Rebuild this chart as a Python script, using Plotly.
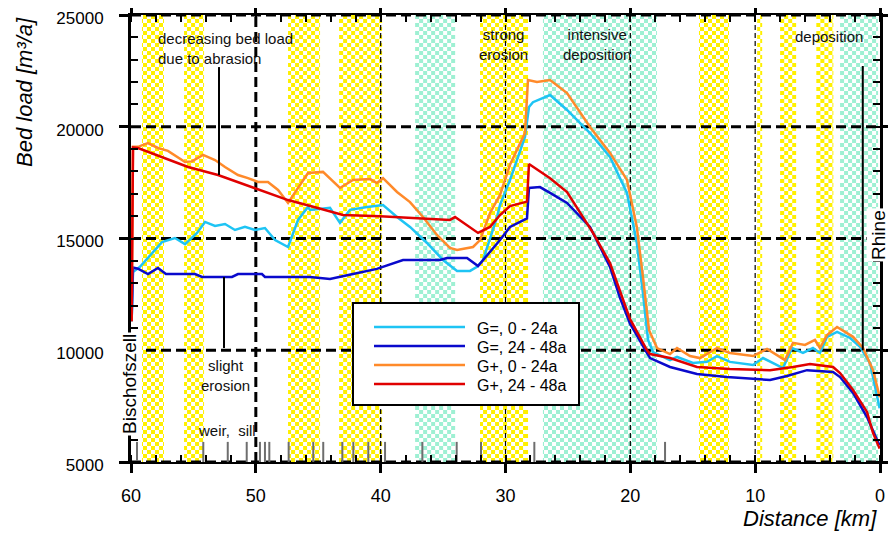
import numpy as np
import plotly.graph_objects as go

# ---------------- data ----------------
cyan_km = [59.95, 59.84, 59.28, 58.32, 57.52, 56.48, 55.67, 54.71, 54.07, 53.27, 52.47, 51.67, 50.87, 50.07,
           49.27, 48.46, 47.42, 46.62, 45.82, 45.66, 44.06, 43.26, 42.46, 41.09, 39.81, 38.69, 37.65, 36.29,
           35.01, 33.88, 32.84, 32.28, 31.80, 30.68, 30.44, 29.64, 28.44, 28.12, 27.80, 26.43, 25.07, 23.23,
           21.63, 20.27, 19.48, 18.99, 18.58, 18.18, 16.82, 16.26, 14.98, 13.86, 13.06, 12.02, 10.17, 9.37,
           8.57, 7.77, 7.05, 6.17, 5.37, 4.81, 4.24, 3.44, 2.40, 1.60, 0.80, 0.16, 0.03]
cyan_val = [11300, 13500, 13730, 14350, 14840, 15020, 14750, 15250, 15740, 15560, 15650, 15380, 15520, 15380,
            15470, 14930, 14620, 15830, 16410, 16280, 16370, 15700, 16280, 16410, 16500, 15960, 15520, 14800,
            14040, 13550, 13550, 13730, 14040, 15960, 16500, 17620, 19540, 20880, 21100, 21420, 20750, 19720,
            18650, 17040, 14800, 12560, 10460, 9920, 9560, 9700, 9430, 9480, 9740, 9480, 9340, 9650,
            9430, 9200, 10100, 9880, 10100, 9880, 10600, 10820, 10550, 10150, 9430, 7640, 7400]

blue_km = [59.95, 59.84, 59.44, 58.64, 57.84, 57.2, 54.87, 54.31, 51.91, 51.43, 49.51, 49.27, 45.66, 44.06,
           42.22, 40.30, 38.21, 35.25, 34.69, 33.08, 32.20, 31.24, 30.44, 29.64, 28.44, 28.28, 28.12, 27.24,
           26.43, 25.07, 23.23, 21.63, 20.83, 20.03, 18.66, 18.42, 16.82, 14.66, 12.26, 8.81, 7.45, 5.85,
           3.76, 3.20, 2.16, 1.04, 0.24, 0.03]
blue_val = [11300, 13700, 13650, 13410, 13680, 13410, 13410, 13280, 13280, 13410, 13410, 13280, 13280, 13190,
            13410, 13640, 14040, 14040, 14130, 14130, 13770, 14400, 14930, 15520, 15830, 15900, 17260, 17300,
            17040, 16590, 15520, 13730, 12340, 11200, 9870, 9650, 9250, 8940, 8800, 8670, 8850, 9110,
            9030, 8800, 8090, 7010, 5990, 5750]

orange_km = [59.95, 59.84, 59.44, 58.64, 57.84, 57.04, 55.67, 55.11, 54.23, 53.27, 52.47, 51.43, 50.63, 49.83,
             49.03, 48.22, 47.42, 46.62, 45.82, 44.62, 43.26, 42.22, 40.85, 40.30, 39.81, 38.69, 37.65, 36.61,
             35.49, 34.45, 33.88, 32.60, 32.04, 31.24, 30.44, 29.64, 28.44, 28.20, 27.48, 26.43, 25.07, 23.23,
             21.63, 20.27, 19.48, 18.99, 18.5, 17.86, 16.82, 16.26, 15.22, 14.42, 13.06, 12.02, 10.17, 9.05,
             8.01, 7.61, 6.97, 6.01, 5.21, 4.81, 4.24, 3.44, 2.16, 1.36, 0.56, 0.08, 0.02]
orange_val = [11300, 19100, 19100, 19270, 19050, 18920, 18420, 18450, 18740, 18510, 18200, 17840, 17700, 17530,
              17530, 17170, 16590, 17260, 17930, 17980, 17260, 17620, 17660, 17480, 17700, 17080, 16630, 15960,
              15160, 14580, 14490, 14620, 14930, 16140, 16950, 18300, 19720, 22090, 22000, 22090, 21510, 19990,
              18830, 17620, 15520, 13280, 10900, 10100, 9830, 10100, 9740, 9650, 10100, 9880, 9740, 10060,
              9700, 9560, 10330, 10240, 10460, 10100, 10680, 11040, 10600, 10100, 9110, 8090, 7900]

red_km = [59.95, 59.84, 59.44, 55.43, 53.03, 50.07, 47.42, 45.26, 43.02, 40.05, 37.65, 34.45, 34.04, 32.20,
          31.24, 30.44, 29.64, 28.44, 28.28, 28.12, 26.43, 25.07, 22.99, 21.63, 20.83, 20.03, 18.66, 18.42,
          16.82, 14.66, 12.02, 8.81, 6.97, 5.61, 3.76, 3.20, 2.16, 1.04, 0.56, 0.03]
red_val = [11300, 19080, 19050, 18200, 17840, 17260, 16720, 16400, 16050, 16000, 15920, 15830, 15960, 15250,
           15520, 16050, 16450, 16630, 16650, 18330, 17700, 17080, 15250, 13900, 12600, 11400, 10000, 9830,
           9650, 9250, 9160, 9110, 9250, 9380, 9250, 8980, 8220, 7240, 6300, 5600]

series_names = ["G=, 0 - 24a", "G=, 24 - 48a", "G+, 0 - 24a", "G+, 24 - 48a"]
series_colors = ["#1ec4f4", "#0a0acc", "#ff8a2a", "#e00000"]

# hatched (checkered) background bands: (from km, to km)
yellow_bands = [(59.12, 57.36), (55.75, 54.15), (47.42, 44.86), (43.33, 39.9), (32.04, 28.2),
                (14.5, 12.1), (9.84, 9.44), (8.0, 6.7), (5.1, 3.7)]
green_bands = [(37.24, 34.04), (27.0, 17.85), (3.2, 0.15)]

# weirs and sills (km)
weir_km = [59.52, 54.21, 52.25, 50.73, 49.67, 49.27, 48.92, 47.37, 45.40, 44.60, 43.07, 42.19,
           40.99, 39.65, 36.66, 33.91, 31.96, 27.69, 17.22]

x_ticks = [60, 50, 40, 30, 20, 10, 0]
y_ticks = [5000, 10000, 15000, 20000, 25000]

YELLOW = "#fff000"
GREEN = "#9ef0d3"
FONT = "Arial, Liberation Sans, Helvetica, sans-serif"

fig = go.Figure()

# ---------------- checkered bands ----------------
cell_km = 60 / 187
cell_y = 20000 / 112
y_edges = np.array([5000 + j * cell_y for j in range(113)])
for bands, col in ((yellow_bands, YELLOW), (green_bands, GREEN)):
    for a, b in bands:
        hi, lo = max(a, b), min(a, b)
        k0 = int(np.floor(lo / cell_km)) + 1
        k1 = int(np.ceil(hi / cell_km)) - 1
        inner = [k * cell_km for k in range(k0, k1 + 1)]
        xe = [lo] + inner + [hi]
        ncol = len(xe) - 1
        z = np.full((112, ncol), np.nan)
        for c in range(ncol):
            kk = int(np.floor(((xe[c] + xe[c + 1]) / 2) / cell_km))
            for j in range(112):
                if (kk + j) % 2 == 0:
                    z[j, c] = 1
        fig.add_trace(go.Heatmap(x=xe, y=y_edges, z=z, colorscale=[[0, col], [1, col]],
                                 showscale=False, hoverinfo="skip", zmin=0, zmax=2))

# ---------------- dashed grid (drawn over the bands) ----------------
gx, gy = [], []
for v in y_ticks:
    gx += [60, 0, None]
    gy += [v, v, None]
fig.add_trace(go.Scatter(x=gx, y=gy, mode="lines", line=dict(color="black", width=3, dash="10px,5px"),
                         hoverinfo="skip", showlegend=False))
fig.add_trace(go.Scatter(x=[50, 50], y=[5000, 25000], mode="lines",
                         line=dict(color="black", width=3, dash="10px,5px"), hoverinfo="skip", showlegend=False))
vx, vy = [], []
for v in [40, 30, 20, 10]:
    vx += [v, v, None]
    vy += [5000, 25000, None]
fig.add_trace(go.Scatter(x=vx, y=vy, mode="lines", line=dict(color="black", width=1.2, dash="5px,3px"),
                         hoverinfo="skip", showlegend=False))

# weir / sill marks
wx, wy = [], []
for k in weir_km:
    wx += [k, k, None]
    wy += [5000, 5900, None]
fig.add_trace(go.Scatter(x=wx, y=wy, mode="lines", line=dict(color="#6e6e6e", width=2),
                         hoverinfo="skip", showlegend=False))

# ---------------- series ----------------
for xs, ys, name, col in ((cyan_km, cyan_val, series_names[0], series_colors[0]),
                          (blue_km, blue_val, series_names[1], series_colors[1]),
                          (orange_km, orange_val, series_names[2], series_colors[2]),
                          (red_km, red_val, series_names[3], series_colors[3])):
    fig.add_trace(go.Scatter(x=xs, y=ys, mode="lines", name=name, line=dict(color=col, width=2.5),
                             showlegend=False))

# ---------------- annotation lines ----------------
shapes = [
    dict(type="line", x0=52.95, x1=52.95, y0=22670, y1=17840, line=dict(color="black", width=2)),
    dict(type="line", x0=52.55, x1=52.55, y0=13280, y1=10100, line=dict(color="black", width=2)),
    dict(type="line", x0=1.38, x1=1.38, y0=22720, y1=10000, line=dict(color="black", width=2)),
]

# manual legend (page px -> paper; plot area spans page px 131..880 x 15..462)
def px_x(p):
    return (p - 131) / 749

def px_y(p):
    return (462 - p) / 447

shapes.append(dict(type="rect", xref="paper", yref="paper", x0=px_x(353), x1=px_x(579), y0=px_y(303),
                   y1=px_y(405), line=dict(color="black", width=2), fillcolor="white", layer="above"))
annotations = []
rows = [327, 346, 365, 384]
for r, name, col in zip(rows, series_names, series_colors):
    shapes.append(dict(type="line", xref="paper", yref="paper", x0=px_x(374), x1=px_x(465), y0=px_y(r),
                       y1=px_y(r), line=dict(color=col, width=2.5), layer="above"))
    annotations.append(dict(xref="paper", yref="paper", x=px_x(475), y=px_y(r + 1), text=name, showarrow=False,
                            xanchor="left", yanchor="middle", font=dict(size=16, color="black", family=FONT)))

txt = dict(showarrow=False, font=dict(size=15, color="#111111", family=FONT))
annotations += [
    dict(x=58.0, y=23500, text="decreasing bed load<br>due to abrasion", xanchor="left", yanchor="middle",
         align="left", **txt),
    dict(x=52.47, y=8870, text="slight<br>erosion", xanchor="center", yanchor="middle", **txt),
    dict(x=52.31, y=6430, text="weir,  sill", xanchor="center", yanchor="middle", **txt),
    dict(x=30.2, y=23660, text="strong<br>erosion", xanchor="center", yanchor="middle", **txt),
    dict(x=22.67, y=23660, text="intensive<br>deposition", xanchor="center", yanchor="middle", **txt),
    dict(x=4.08, y=24020, text="deposition", xanchor="center", yanchor="middle", **txt),
    dict(xref="paper", x=px_x(129), y=8490, text="Bischofszell", textangle=-90, showarrow=False,
         bgcolor="white", xanchor="center", yanchor="middle", font=dict(size=19, color="black", family=FONT)),
    dict(xref="paper", x=px_x(879), y=15160, text="Rhine", textangle=-90, showarrow=False,
         bgcolor="white", xanchor="center", yanchor="middle", font=dict(size=19, color="black", family=FONT)),
    dict(xref="paper", yref="paper", x=px_x(24), y=px_y(92), text="<i>Bed load [m³/a]</i>", textangle=-90,
         showarrow=False, xanchor="center", yanchor="middle", font=dict(size=22, color="black", family=FONT)),
    dict(xref="paper", yref="paper", x=px_x(741), y=px_y(518), text="<i>Distance [km]</i>",
         showarrow=False, xanchor="left", yanchor="middle", font=dict(size=22, color="black", family=FONT)),
]

# the page body adds an 8px offset, so the figure is 8px smaller and margins shifted by 8px
fig.update_layout(
    width=888, height=527,
    margin=dict(l=123, r=16, t=7, b=73, autoexpand=False),
    paper_bgcolor="white", plot_bgcolor="white",
    font=dict(family=FONT, color="black"),
    showlegend=False,
    shapes=shapes, annotations=annotations,
    xaxis=dict(range=[60, 0], tickvals=x_ticks, showgrid=False, zeroline=False, automargin=False,
               showline=True, linecolor="black", linewidth=2, mirror="ticks",
               ticks="outside", ticklen=9, tickwidth=3, tickcolor="black", ticklabeloverflow="allow",
               tickfont=dict(size=18, color="black"), ticklabelstandoff=7,
               minor=dict(dtick=2, ticks="inside", ticklen=7, tickwidth=2, tickcolor="black", showgrid=False)),
    yaxis=dict(range=[5000, 25000], tickvals=y_ticks, tickformat="d", showgrid=False, zeroline=False,
               automargin=False, showline=True, linecolor="black", linewidth=3, mirror="ticks",
               ticks="outside", ticklen=9, tickwidth=3, tickcolor="black", ticklabeloverflow="allow",
               tickfont=dict(size=17, color="black"), ticklabelstandoff=12, ticklabelshift=3,
               minor=dict(dtick=1000, ticks="inside", ticklen=7, tickwidth=2, tickcolor="black", showgrid=False)),
)

fig.write_html("out.html")
